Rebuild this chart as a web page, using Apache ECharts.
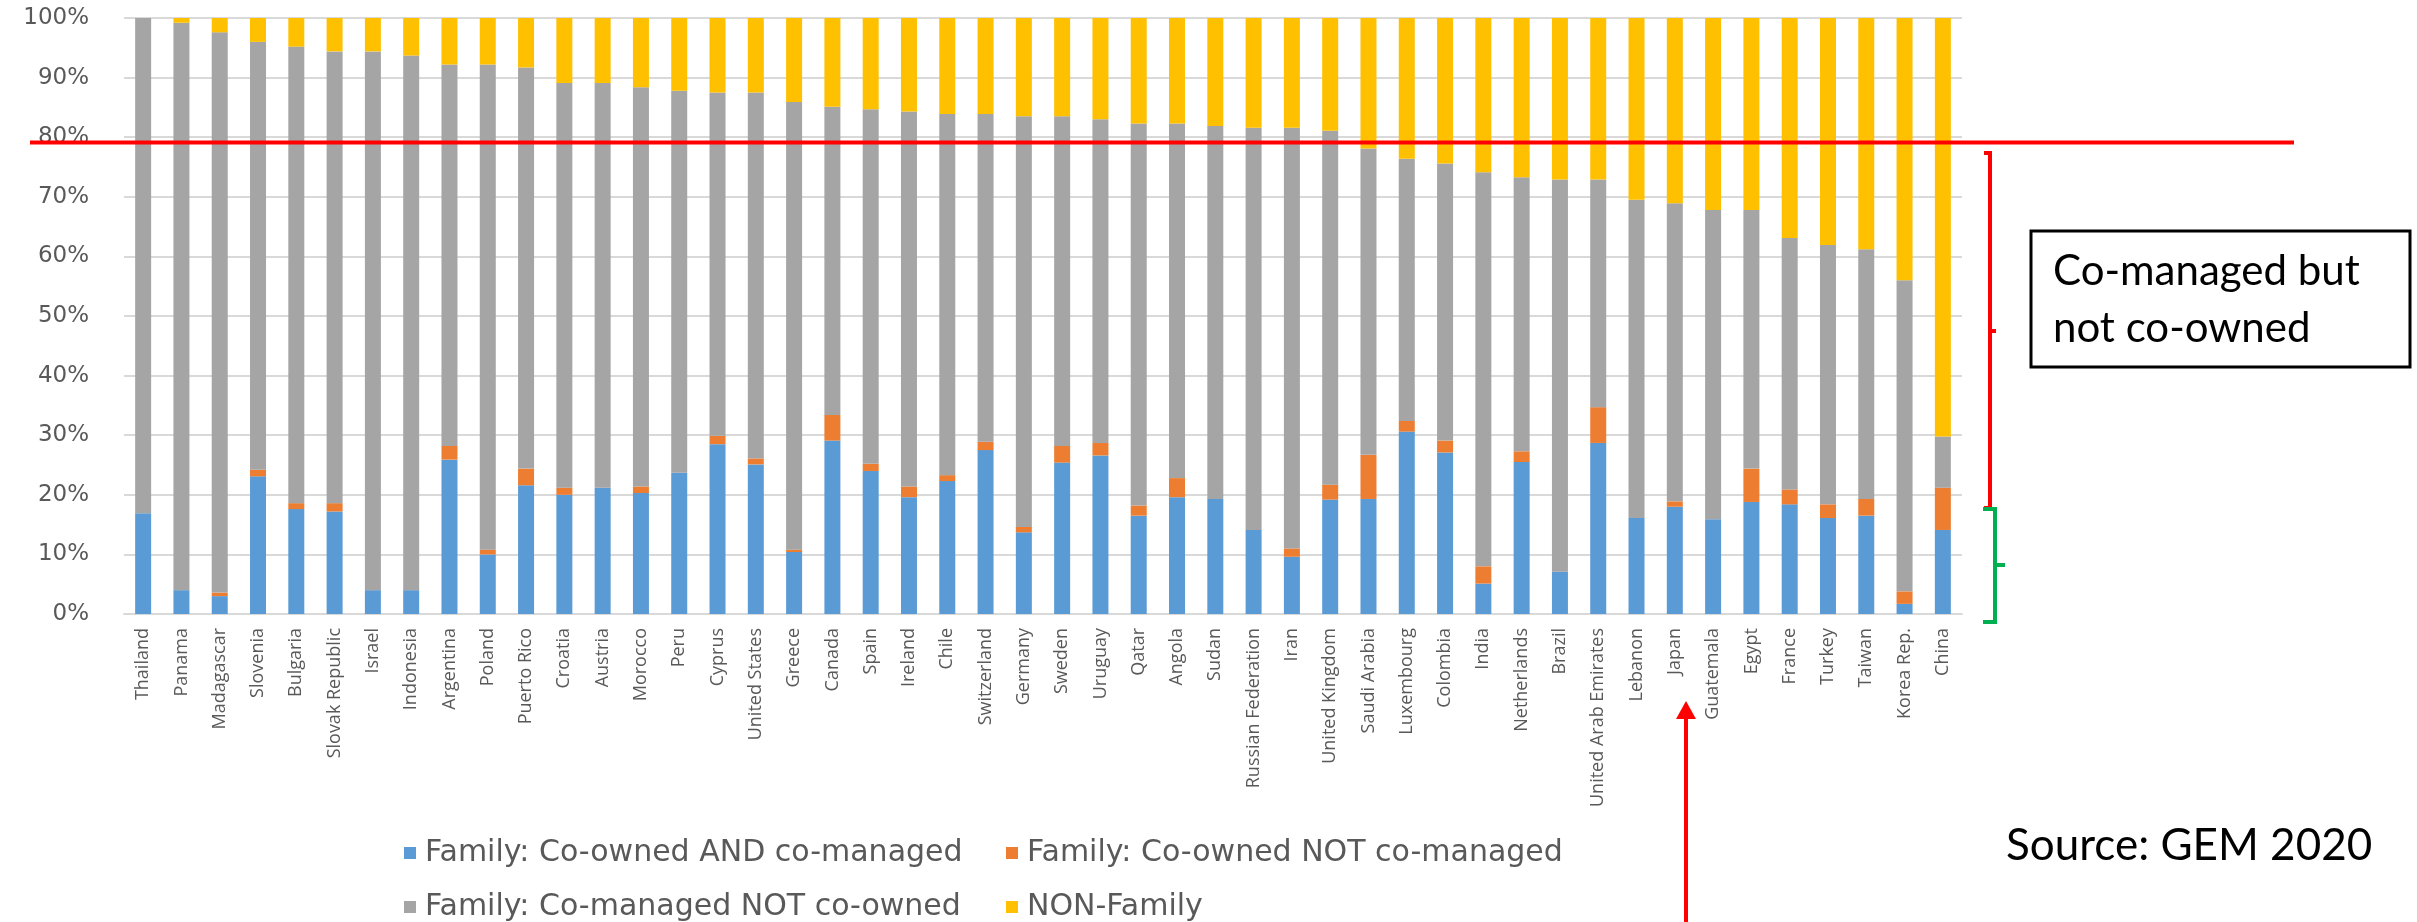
<!DOCTYPE html>
<html>
<head>
<meta charset="utf-8">
<script src="https://cdn.jsdelivr.net/npm/echarts@6/dist/echarts.min.js"></script>
<style>
html,body{margin:0;padding:0;background:#fff;}
#chart{width:2417px;height:922px;}
</style>
</head>
<body>
<div id="chart"></div>
<script>
const countries = ['Thailand','Panama','Madagascar','Slovenia','Bulgaria','Slovak Republic','Israel','Indonesia','Argentina','Poland','Puerto Rico','Croatia','Austria','Morocco','Peru','Cyprus','United States','Greece','Canada','Spain','Ireland','Chile','Switzerland','Germany','Sweden','Uruguay','Qatar','Angola','Sudan','Russian Federation','Iran','United Kingdom','Saudi Arabia','Luxembourg','Colombia','India','Netherlands','Brazil','United Arab Emirates','Lebanon','Japan','Guatemala','Egypt','France','Turkey','Taiwan','Korea Rep.','China'];

const coOwnedAndCoManaged = [16.9,4.0,3.0,23.1,17.6,17.2,4.0,4.0,25.9,10.0,21.6,20.0,21.2,20.3,23.7,28.5,25.1,10.4,29.1,24.0,19.6,22.3,27.5,13.7,25.4,26.6,16.5,19.6,19.3,14.1,9.6,19.2,19.3,30.6,27.1,5.1,25.5,7.1,28.7,16.1,18.0,15.9,18.8,18.4,16.1,16.5,1.7,14.1];
const coOwnedNotCoManaged = [0,0,0.6,1.1,1.0,1.4,0,0,2.3,0.8,2.8,1.2,0,1.1,0,1.4,1.0,0.4,4.3,1.2,1.8,1.0,1.4,0.9,2.8,2.1,1.7,3.2,0,0,1.4,2.5,7.4,1.8,2.0,2.9,1.8,0,6.0,0,0.9,0,5.6,2.5,2.3,2.8,2.1,7.1];
const coManagedNotCoOwned = [83.1,95.2,94.0,71.8,76.6,75.8,90.4,89.7,64.0,81.4,67.3,67.9,67.9,67.0,64.1,57.6,61.4,75.1,51.7,59.5,62.9,60.6,55.0,68.9,55.3,54.3,64.1,59.5,62.6,67.5,70.6,59.4,51.4,44.0,46.5,66.1,46.0,65.8,38.2,53.4,50.0,51.9,43.4,42.2,43.5,41.9,52.2,8.6];
const nonFamily = [0,0.8,2.4,4.0,4.8,5.6,5.6,6.3,7.8,7.8,8.3,10.9,10.9,11.6,12.2,12.5,12.5,14.1,14.9,15.3,15.7,16.1,16.1,16.5,16.5,17.0,17.7,17.7,18.1,18.4,18.4,18.9,21.9,23.6,24.4,25.9,26.7,27.1,27.1,30.5,31.1,32.2,32.2,36.9,38.1,38.8,44.0,70.2];

const seriesNames = ['Family: Co-owned AND co-managed','Family: Co-owned NOT co-managed','Family: Co-managed NOT co-owned','NON-Family'];
const seriesColors = ['#5B9BD5','#ED7D31','#A5A5A5','#FFC000'];
const yTicks = [0,10,20,30,40,50,60,70,80,90,100];
const thresholdLine = 79.1;
const boxText = 'Co-managed but\nnot co-owned';
const sourceText = 'Source: GEM 2020';

const chart = echarts.init(document.getElementById('chart'), null, {renderer:'canvas'});
const allData = [coOwnedAndCoManaged, coOwnedNotCoManaged, coManagedNotCoOwned, nonFamily];

const legendPos = [[404,838],[1006,838],[404,892],[1006,892]];
const legendOrder = [0,1,2,3];

const option = {
  backgroundColor:'#ffffff',
  animation:false,
  grid:{left:124, right:455, top:18, bottom:308, containLabel:false},
  legend: legendOrder.map((si,k)=>({
    left:legendPos[k][0], top:legendPos[k][1], orient:'horizontal',
    itemWidth:12, itemHeight:12, icon:'rect', padding:0,
    data:[seriesNames[si]],
    textStyle:{fontFamily:'DejaVu Sans', fontSize:30, color:'#595959', padding:[0,0,0,4]}
  })),
  xAxis:{
    type:'category', data:countries,
    axisTick:{show:false},
    axisLine:{lineStyle:{color:'#d9d9d9', width:2}},
    axisLabel:{rotate:90, interval:0, margin:14, color:'#595959', fontFamily:'Open Sans', fontSize:18}
  },
  yAxis:{
    type:'value', min:yTicks[0], max:yTicks[yTicks.length-1], interval:10,
    axisLine:{show:false}, axisTick:{show:false},
    splitLine:{lineStyle:{color:'#d9d9d9', width:2}},
    axisLabel:{formatter:'{value}%', margin:35, color:'#595959', fontFamily:'DejaVu Sans', fontSize:23}
  },
  series: seriesNames.map((n,i)=>({
    name:n, type:'bar', stack:'total', data:allData[i], barWidth:16,
    itemStyle:{color:seriesColors[i]}
  }))
};
chart.setOption(option);

const yLine = chart.convertToPixel({yAxisIndex:0}, thresholdLine);
chart.setOption({
  graphic:[
    {type:'line', z:100, shape:{x1:30, y1:yLine, x2:2294, y2:yLine}, style:{stroke:'#FF0000', lineWidth:4}},
    // red bracket
    {type:'polyline', z:100, shape:{points:[[1984,153],[1990,153],[1990,508],[1984,508]]}, style:{stroke:'#FF0000', lineWidth:4, fill:null}},
    {type:'line', z:100, shape:{x1:1990, y1:331, x2:1996, y2:331}, style:{stroke:'#FF0000', lineWidth:4}},
    // green bracket
    {type:'polyline', z:100, shape:{points:[[1983,509],[1995,509],[1995,622],[1983,622]]}, style:{stroke:'#00B050', lineWidth:4, fill:null}},
    {type:'line', z:100, shape:{x1:1995, y1:565, x2:2005, y2:565}, style:{stroke:'#00B050', lineWidth:4}},
    // annotation box
    {type:'rect', z:100, shape:{x:2031, y:231, width:379, height:136}, style:{stroke:'#000', lineWidth:3, fill:'#fff'}},
    {type:'text', z:101, x:2053, y:300, style:{text:boxText, font:'42px Lato', fill:'#000', lineHeight:57, verticalAlign:'middle'}},
    {type:'text', z:101, x:2006, y:846, style:{text:sourceText, font:'44px Lato', fill:'#000', verticalAlign:'middle'}},
    // arrow
    {type:'line', z:100, shape:{x1:1686, y1:922, x2:1686, y2:714}, style:{stroke:'#FF0000', lineWidth:4}},
    {type:'polygon', z:100, shape:{points:[[1676,719],[1696,719],[1686,701]]}, style:{fill:'#FF0000'}}
  ]
});
</script>
</body>
</html>
